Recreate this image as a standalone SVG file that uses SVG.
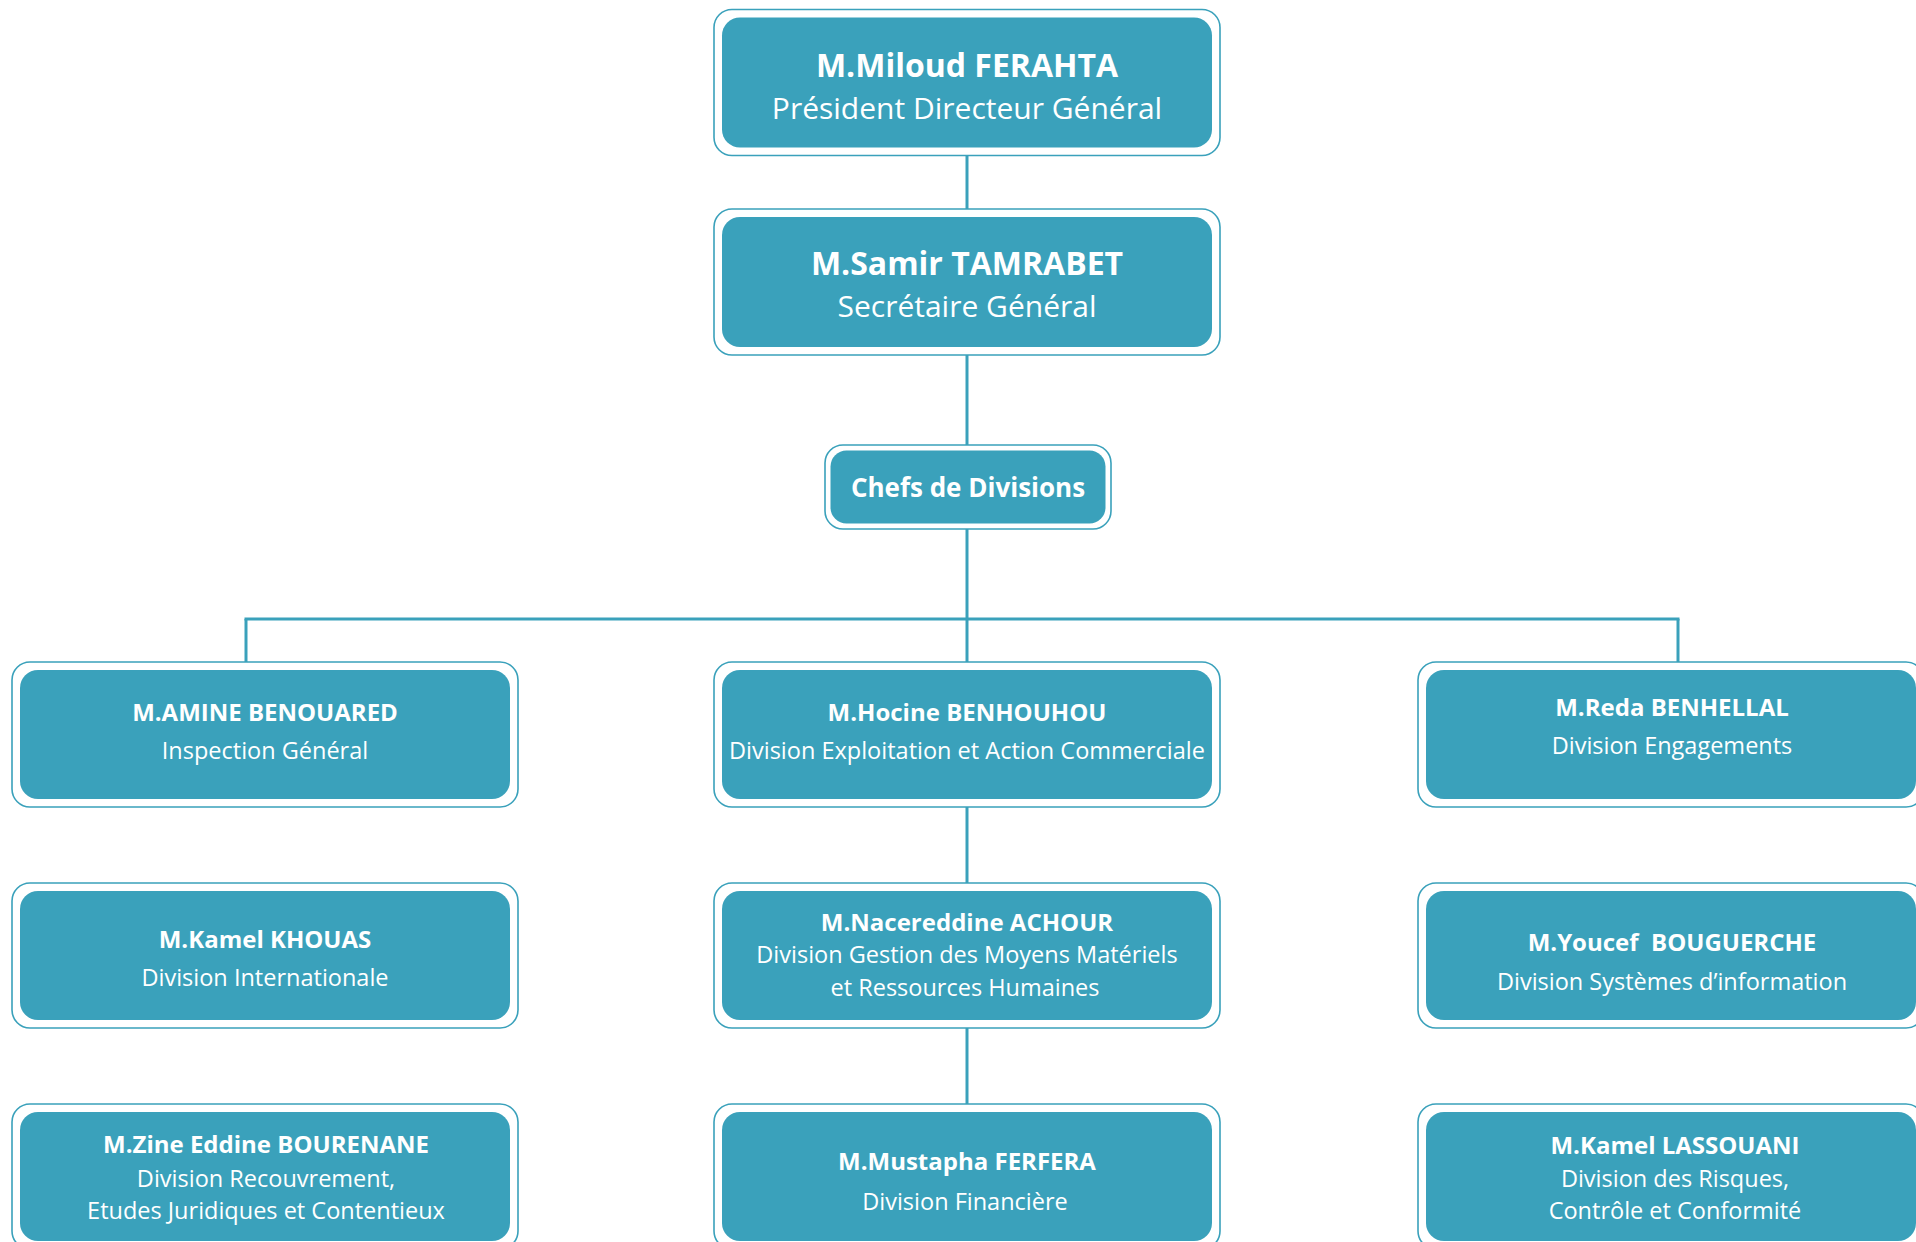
<svg xmlns="http://www.w3.org/2000/svg" width="1916" height="1242" viewBox="0 0 1916 1242">
  <style>
    .frame { fill: #ffffff; stroke: #3aa1bb; stroke-width: 1.6; }
    .card { fill: #3aa1bb; }
    .link { stroke: #3aa1bb; stroke-width: 3; fill: none; }
    text { font-family: "Open Sans", "Noto Sans", sans-serif; fill: #ffffff; text-anchor: middle; }
    .name { font-weight: 700; font-size: 24px; }
    .role { font-weight: 400; font-size: 23.5px; }
    .top-name { font-weight: 700; font-size: 32px; }
    .top-role { font-weight: 400; font-size: 30px; }
    .chefs { font-weight: 700; font-size: 26px; }
  </style>
  <rect width="1916" height="1242" fill="#ffffff"/>

  <!-- connectors -->
  <g id="connectors" class="link">
    <line x1="967" y1="155" x2="967" y2="209"/>
    <line x1="967" y1="355" x2="967" y2="445"/>
    <line x1="967" y1="529" x2="967" y2="662"/>
    <line x1="244.5" y1="619" x2="1679.5" y2="619"/>
    <line x1="246" y1="619" x2="246" y2="662"/>
    <line x1="1678" y1="619" x2="1678" y2="662"/>
    <line x1="967" y1="807" x2="967" y2="883"/>
    <line x1="967" y1="1028" x2="967" y2="1104"/>
  </g>

  <!-- executive -->
  <g id="pdg">
    <rect class="frame" x="714" y="9.5" width="506" height="146" rx="18"/>
    <rect class="card" x="722" y="17.5" width="490" height="130" rx="18"/>
    <text class="top-name" x="967" y="77">M.Miloud FERAHTA</text>
    <text class="top-role" x="967" y="119">Président Directeur Général</text>
  </g>
  <g id="sg">
    <rect class="frame" x="714" y="209" width="506" height="146" rx="18"/>
    <rect class="card" x="722" y="217" width="490" height="130" rx="18"/>
    <text class="top-name" x="967" y="275">M.Samir TAMRABET</text>
    <text class="top-role" x="967" y="317">Secrétaire Général</text>
  </g>
  <g id="chefs">
    <rect class="frame" x="825" y="445" width="286" height="84" rx="18"/>
    <rect class="card" x="830.5" y="450.5" width="275" height="73" rx="16"/>
    <text class="chefs" x="968" y="497">Chefs de Divisions</text>
  </g>

  <!-- left column -->
  <g id="inspection">
    <rect class="frame" x="12" y="662" width="506" height="145" rx="18"/>
    <rect class="card" x="20" y="670" width="490" height="129" rx="18"/>
    <text class="name" x="265" y="721">M.AMINE BENOUARED</text>
    <text class="role" x="265" y="759">Inspection Général</text>
  </g>
  <g id="internationale">
    <rect class="frame" x="12" y="883" width="506" height="145" rx="18"/>
    <rect class="card" x="20" y="891" width="490" height="129" rx="18"/>
    <text class="name" x="265" y="948">M.Kamel KHOUAS</text>
    <text class="role" x="265" y="986">Division Internationale</text>
  </g>
  <g id="recouvrement">
    <rect class="frame" x="12" y="1104" width="506" height="145" rx="18"/>
    <rect class="card" x="20" y="1112" width="490" height="129" rx="18"/>
    <text class="name" x="266" y="1153">M.Zine Eddine BOURENANE</text>
    <text class="role" x="266" y="1186.5">Division Recouvrement,</text>
    <text class="role" x="266" y="1218.5">Etudes Juridiques et Contentieux</text>
  </g>

  <!-- middle column -->
  <g id="exploitation">
    <rect class="frame" x="714" y="662" width="506" height="145" rx="18"/>
    <rect class="card" x="722" y="670" width="490" height="129" rx="18"/>
    <text class="name" x="967" y="721">M.Hocine BENHOUHOU</text>
    <text class="role" x="967" y="759">Division Exploitation et Action Commerciale</text>
  </g>
  <g id="moyens">
    <rect class="frame" x="714" y="883" width="506" height="145" rx="18"/>
    <rect class="card" x="722" y="891" width="490" height="129" rx="18"/>
    <text class="name" x="967" y="931">M.Nacereddine ACHOUR</text>
    <text class="role" x="967" y="963">Division Gestion des Moyens Matériels</text>
    <text class="role" x="965" y="996">et Ressources Humaines</text>
  </g>
  <g id="financiere">
    <rect class="frame" x="714" y="1104" width="506" height="145" rx="18"/>
    <rect class="card" x="722" y="1112" width="490" height="129" rx="18"/>
    <text class="name" x="967" y="1170">M.Mustapha FERFERA</text>
    <text class="role" x="965" y="1210">Division Financière</text>
  </g>

  <!-- right column -->
  <g id="engagements">
    <rect class="frame" x="1418" y="662" width="506" height="145" rx="18"/>
    <rect class="card" x="1426" y="670" width="490" height="129" rx="18"/>
    <text class="name" x="1672" y="716">M.Reda BENHELLAL</text>
    <text class="role" x="1672" y="754">Division Engagements</text>
  </g>
  <g id="si">
    <rect class="frame" x="1418" y="883" width="506" height="145" rx="18"/>
    <rect class="card" x="1426" y="891" width="490" height="129" rx="18"/>
    <text class="name" x="1672" y="951" xml:space="preserve">M.Youcef  BOUGUERCHE</text>
    <text class="role" x="1672" y="990">Division Systèmes d’information</text>
  </g>
  <g id="risques">
    <rect class="frame" x="1418" y="1104" width="506" height="145" rx="18"/>
    <rect class="card" x="1426" y="1112" width="490" height="129" rx="18"/>
    <text class="name" x="1675" y="1154">M.Kamel LASSOUANI</text>
    <text class="role" x="1675" y="1186.5">Division des Risques,</text>
    <text class="role" x="1675" y="1218.5">Contrôle et Conformité</text>
  </g>
</svg>
